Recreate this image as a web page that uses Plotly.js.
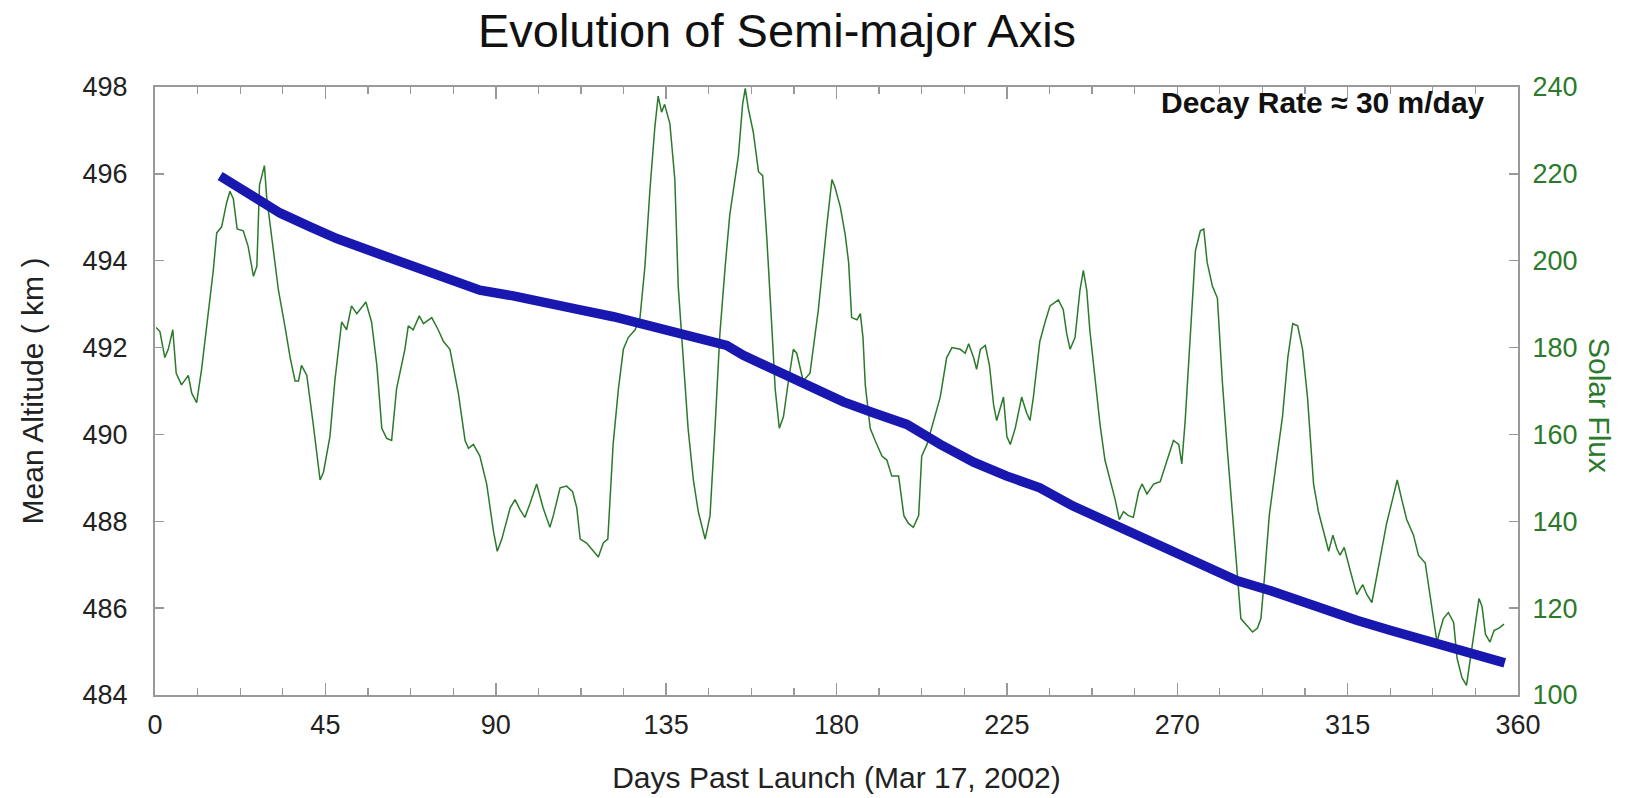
<!DOCTYPE html>
<html>
<head>
<meta charset="utf-8">
<script src="https://cdn.plot.ly/plotly-3.0.1.min.js"></script>
<style>html,body{margin:0;padding:0;background:#fff;}#chart{width:1634px;height:798px;}</style>
</head>
<body>
<div id="chart"></div>
<script>
// Solar flux (green, right axis)
const fluxDays = [0.3,1.3,2.6,3.5,4.7,5.6,7.0,8.8,9.7,11.0,12.3,14.1,15.4,16.3,17.6,18.9,19.8,20.7,21.7,23.3,24.6,26.0,26.9,27.6,28.2,28.9,29.5,30.8,32.6,34.3,35.7,37.0,37.9,38.7,40.1,41.8,43.6,44.5,46.2,47.5,49.3,50.6,51.9,53.3,55.7,57.2,58.6,59.9,61.2,62.5,63.8,66.0,66.9,68.2,69.8,70.9,73.1,74.8,76.2,77.9,80.1,81.9,82.8,84.1,85.8,87.6,89.4,90.4,91.6,93.8,95.1,96.4,97.7,99.0,100.8,102.5,104.3,105.2,107.0,108.7,110.3,111.4,112.3,114.0,115.8,117.1,118.4,119.6,121.0,122.4,123.7,125.0,126.8,128.1,129.4,130.7,132.0,132.9,133.8,134.6,136.0,137.3,138.2,139.5,140.8,142.2,143.5,145.3,146.6,147.9,149.2,150.6,151.8,154.1,155.2,155.9,156.7,158.0,159.4,160.5,161.6,162.9,163.8,164.9,166.0,167.3,168.6,169.5,170.4,171.2,173.0,175.2,177.4,178.8,179.6,181.0,182.3,183.2,184.0,185.4,186.3,187.0,187.6,188.9,190.2,192.0,193.3,194.6,196.4,197.8,199.0,200.3,201.7,202.5,203.9,205.6,207.4,209.1,210.5,212.7,214.0,214.9,216.2,217.0,218.0,219.3,220.4,221.5,222.3,223.2,224.1,225.0,225.9,227.2,228.9,230.2,231.1,232.0,233.7,235.1,236.4,238.6,239.9,240.8,241.7,243.0,244.3,245.2,246.1,246.9,248.3,249.6,250.9,252.3,253.6,254.7,255.8,257.1,258.4,259.8,260.7,262.0,263.8,265.5,267.3,269.0,270.4,271.2,272.1,273.5,274.8,276.1,277.0,277.9,279.3,280.6,281.9,283.2,284.6,285.9,286.8,288.1,289.9,291.2,292.1,293.0,294.3,296.1,297.8,299.2,300.5,301.8,303.1,304.4,305.3,306.0,307.3,308.6,310.0,311.1,312.2,313.0,314.1,315.7,317.4,319.0,320.1,321.4,323.1,325.3,327.1,328.1,329.3,330.6,332.4,333.7,335.5,336.8,338.6,339.4,340.3,341.6,343.0,343.9,345.2,346.4,347.4,348.6,349.7,350.5,351.4,352.6,353.7,355.0,356.3];
const fluxValues = [184.6,183.7,177.7,179.6,184.1,174.1,171.4,173.6,169.5,167.3,175,187.8,197.8,206.4,207.8,213.3,216,214.2,207.3,206.9,203.3,196.4,198.7,217.4,219.2,221.9,214.6,205.1,193.2,185,177.7,172.3,172.3,175.9,173.6,162.3,149.5,151.3,159.5,172.3,185.9,184.1,189.6,187.8,190.5,185.9,175.9,161.4,159.1,158.6,170.5,179.6,185,184.1,187.3,185.5,186.9,184.1,181.4,179.6,169.6,158.6,156.8,157.7,155,148.6,137.7,133.1,135.9,143.1,145,142.7,140.9,144,148.6,143.1,138.6,141.3,147.7,148.1,146.8,143.1,135.9,135,133.1,131.8,135,135.9,157.7,170.5,179.6,182.3,184.1,186.9,198.7,216,230.6,237.9,234.2,236,231.5,218.7,194.1,178.7,161.4,149.5,142.2,135.9,141.3,161.4,183.2,198.7,210.5,224.2,236,239.7,235.1,229.7,220.5,219.6,205.1,185,170.5,161.4,164.1,172.3,179.6,178.7,175,172.3,174.1,188.7,207.8,218.7,216.9,212.4,206,199.6,186.9,186.4,187.8,182.3,171.4,161.4,158.6,155,154.1,150.4,150.4,141.3,139.5,138.6,141.3,155,157.7,163.2,168.6,177.7,180,179.6,178.7,180.9,177.7,175,179.6,180.5,175.9,166.8,163.2,165.9,168.6,159.5,157.7,161.4,168.6,165,163.2,168.6,181.4,185.9,189.6,191,188.7,183.2,179.6,182.3,193.2,197.8,193.2,184.1,172.3,162.3,154.1,149.5,145,140.4,142.2,141.3,140.9,146.8,148.6,146.3,148.6,149.1,154.1,158.6,157.7,153.2,163.2,185,202.3,206.9,207.3,199.6,194.1,191.4,172.3,156.8,141.3,127.7,117.6,116.3,114.5,115.4,117.6,126.7,141.3,153.2,164.1,177.7,185.5,185,179.6,168.6,157,148.6,142.2,137.7,133.1,136.8,133.6,132.2,134.0,128.6,123.1,125.4,123.1,121.3,129.5,139.5,145.9,149.5,145,140.4,136.8,132.2,130.4,123.1,112.2,114.9,117.6,119.0,116.7,108.5,104,102.2,108.5,115.8,122.2,120.4,114,112.2,114.9,115.4,116.3];

// Mean altitude (blue, left axis)
const altDays = [17.2,25.1,33.0,41.0,48.0,60.3,68.2,77.0,85.8,94.6,103.4,112.3,121.1,129.0,137.8,146.6,151.0,155.4,164.2,173.0,181.8,189.7,198.6,207.4,216.2,225.0,233.7,242.5,250.5,259.4,268.2,277.0,285.9,294.7,302.0,308.6,317.4,326.2,335.0,343.9,352.7,356.5];
const altValues = [495.95,495.51,495.10,494.78,494.51,494.12,493.87,493.55,493.32,493.19,493.05,492.87,492.71,492.55,492.32,492.14,492.05,491.82,491.46,491.09,490.75,490.50,490.23,489.77,489.36,489.04,488.77,488.35,488.04,487.68,487.36,486.99,486.63,486.40,486.17,486.00,485.72,485.49,485.26,485.04,484.85,484.74];

const xTicks = [0,45,90,135,180,225,270,315,360];
const altTicks = [484,486,488,490,492,494,496,498];
const fluxTicks = [100,120,140,160,180,200,220,240];

const FONT = '"Liberation Sans", Arial, Helvetica, sans-serif';
const GREEN = '#2b7a2b';
const BLUE = '#1818b0';
const AXIS = '#999999';

const traces = [
  {x: fluxDays, y: fluxValues, type: 'scatter', mode: 'lines', yaxis: 'y',
   line: {color: GREEN, width: 1.5}, name: 'Solar Flux', hoverinfo: 'x+y'},
  {x: altDays, y: altValues, type: 'scatter', mode: 'lines', yaxis: 'y2',
   line: {color: BLUE, width: 9.5}, name: 'Mean Altitude', hoverinfo: 'x+y'}
];

const layout = {
  width: 1634, height: 798,
  margin: {l: 155, r: 116, t: 87, b: 103},
  paper_bgcolor: '#ffffff', plot_bgcolor: '#ffffff',
  showlegend: false,
  font: {family: FONT, color: '#222'},
  title: {text: 'Evolution of Semi-major Axis', x: 777/1634, xanchor: 'center',
          y: 1 - 31/798, yref: 'container', yanchor: 'middle',
          font: {family: FONT, size: 47, color: '#111'}},
  xaxis: {range: [0, 360], tickvals: xTicks, ticktext: xTicks.map(String),
          ticks: 'inside', ticklen: 12, tickwidth: 1.5, tickcolor: AXIS,
          showline: true, linecolor: AXIS, linewidth: 2, mirror: 'ticks',
          showgrid: false, zeroline: false,
          minor: {dtick: 11.25, tick0: 0, ticks: 'inside', ticklen: 7, tickwidth: 1.2, tickcolor: AXIS, showgrid: false},
          tickfont: {family: FONT, size: 27, color: '#222'},
          ticklabelstandoff: 5,
          title: {text: 'Days Past Launch (Mar 17, 2002)', standoff: 28,
                  font: {family: FONT, size: 30, color: '#222'}}},
  yaxis: {range: [100, 240], tickvals: fluxTicks, ticktext: fluxTicks.map(String),
          side: 'right', ticks: 'inside', ticklen: 9, tickwidth: 1.5, tickcolor: AXIS,
          showline: true, linecolor: AXIS, linewidth: 2,
          showgrid: false, zeroline: false,
          tickfont: {family: FONT, size: 27, color: GREEN},
          ticklabelstandoff: 7},
  yaxis2: {range: [484, 498], tickvals: altTicks, ticktext: altTicks.map(String),
           overlaying: 'y', side: 'left', ticks: 'inside', ticklen: 9, tickwidth: 1.5, tickcolor: AXIS,
           showline: true, linecolor: AXIS, linewidth: 2,
           showgrid: false, zeroline: false,
           tickfont: {family: FONT, size: 27, color: '#222'},
           ticklabelstandoff: 20,
           title: {text: 'Mean Altitude ( km )', standoff: 30,
                   font: {family: FONT, size: 30, color: '#222'}}},
  annotations: [
    {text: '<b>Decay Rate ≈ 30 m/day</b>', xref: 'paper', yref: 'paper',
     x: (1487-155)/1363, y: (695-103)/608, xanchor: 'right', yanchor: 'middle',
     showarrow: false, font: {family: FONT, size: 30, color: '#111'}},
    {text: 'Solar Flux', xref: 'paper', yref: 'paper',
     x: (1600-155)/1363, y: (695-405)/608, xanchor: 'center', yanchor: 'middle',
     textangle: 90, showarrow: false, font: {family: FONT, size: 30, color: GREEN}}
  ]
};

Plotly.newPlot('chart', traces, layout, {displayModeBar: false, staticPlot: true});
</script>
</body>
</html>
